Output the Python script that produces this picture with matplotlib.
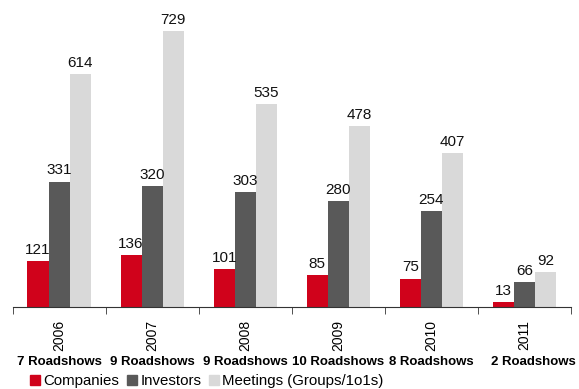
import numpy as np
import matplotlib.pyplot as plt
from matplotlib.patches import Patch

plt.rcParams['font.family'] = ['Liberation Sans', 'DejaVu Sans']

years = ['2006', '2007', '2008', '2009', '2010', '2011']
roadshows = ['7 Roadshows', '9 Roadshows', '9 Roadshows', '10 Roadshows', '8 Roadshows', '2 Roadshows']
companies = [121, 136, 101, 85, 75, 13]
investors = [331, 320, 303, 280, 254, 66]
meetings = [614, 729, 535, 478, 407, 92]

names = ['Companies', 'Investors', 'Meetings (Groups/1o1s)']
colors = ['#D0021B', '#595959', '#D9D9D9']

fig = plt.figure(figsize=(5.79, 3.89), dpi=100)
ax = fig.add_axes([12.5/579, 82/389, 558.5/579, 307/389])

x = np.arange(len(years))
w = 0.226
for k, (vals, c) in enumerate(zip([companies, investors, meetings], colors)):
    bars = ax.bar(x + (k - 1) * w, vals, w, color=c)
    for b, v in zip(bars, vals):
        ax.annotate(str(v), (b.get_x() + b.get_width() / 2, v), xytext=(0, 3),
                    textcoords='offset points', ha='center', va='bottom',
                    fontsize=11, color='#111111')

ax.set_xlim(-0.5, len(years) - 0.5)
ax.set_ylim(0, 810)
for s in ['top', 'right', 'left']:
    ax.spines[s].set_visible(False)
ax.spines['bottom'].set_color('#333333')
ax.set_yticks([])
ax.set_xticks(x)
ax.set_xticklabels(years, rotation=90, fontsize=10)
ax.tick_params(axis='x', which='major', length=0, pad=9.5)
ax.set_xticks(np.arange(len(years) + 1) - 0.5, minor=True)
ax.tick_params(axis='x', which='minor', length=5, color='#333333')

for i, r in enumerate(roadshows):
    xpos = (12.5 + 93 * (i + 0.5)) / 579
    if i == 5:
        xpos += 9 / 579
    fig.text(xpos, 27 / 389, r, ha='center', va='center', fontsize=9.5, fontweight='bold')

handles = [Patch(color=c, label=n) for n, c in zip(names, colors)]
fig.legend(handles=handles, loc='center left', bbox_to_anchor=(30/579, 8/389), ncol=3,
           frameon=False, fontsize=10.8, handlelength=0.7, handleheight=0.7,
           handletextpad=0.2, columnspacing=0.5, borderaxespad=0, borderpad=0)

fig.savefig('out.png', dpi=100)
